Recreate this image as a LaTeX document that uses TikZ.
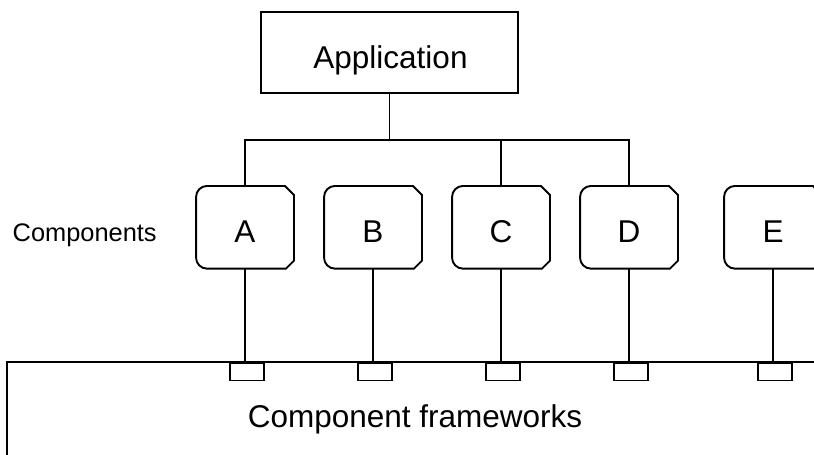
\documentclass[tikz,border=0pt]{standalone}
\usepackage{fontspec}
\setmainfont{Liberation Sans}
\begin{document}
\begin{tikzpicture}[x=1pt,y=-1pt,
  line width=1.9pt,
  bigtext/.style={inner sep=0pt,anchor=base,font=\fontsize{31.5}{36}\selectfont},
  smalltext/.style={inner sep=0pt,anchor=base,font=\fontsize{25.4}{30}\selectfont},
  appbox/.style={draw,rectangle,minimum width=257pt,minimum height=80.4pt,inner sep=0pt},
  compbox/.style={rectangle,minimum width=96pt,minimum height=80.8pt,inner sep=0pt},
  socket/.style={draw,rectangle,minimum width=34pt,minimum height=17.5pt,inner sep=0pt,anchor=north west},
]
\useasboundingbox (0,0) rectangle (814,455);
\clip (0,0) rectangle (814,455);

% application box
\node[appbox] (app) at (389.5,52.5) {};
\node[bigtext] (apptxt) at (390.5,68.3) {Application};

% component boxes: rounded on the left, chamfered on the right
\newcommand\compoutline[1]{%
  \draw (#1.north) -- ([xshift=-9pt]#1.north east) -- ([yshift=-9pt]#1.north east)
    -- ([yshift=8pt]#1.south east) -- ([xshift=-8pt]#1.south east)
    [rounded corners=11pt] -- (#1.south west) -- (#1.north west) -- cycle;}
\foreach \n/\x in {A/245,B/373,C/501,D/629,E/773}{
  \node[compbox] (\n) at (\x,227.3) {};
  \compoutline{\n}
  \node[bigtext] (\n txt) at (\x,242.7) {\n};
}

\node[smalltext] (complbl) at (84.7,241) {Components};

% framework frame, running off the right and bottom
\coordinate (fw) at (7,362);
\draw (830,362) -- (fw) -- (7,470);
\node[bigtext] (fwtxt) at (415,427) {Component frameworks};

% sockets on the framework and links from components down to them
\foreach \n/\x in {A/245,B/373,C/501,D/629,E/773}{
  \node[socket] (s\n) at (\x-16,362) {};
  \draw (\n.south) -- (\n.south |- s\n.north);
}

% tree from the application to components A, C, D
\coordinate (hub) at (app.south |- 0,140);
\draw (app.south) -- (hub);
\draw (A.north) -- (A.north |- hub) -- (D.north |- hub) -- (D.north);
\draw (C.north |- hub) -- (C.north);
\end{tikzpicture}
\end{document}
